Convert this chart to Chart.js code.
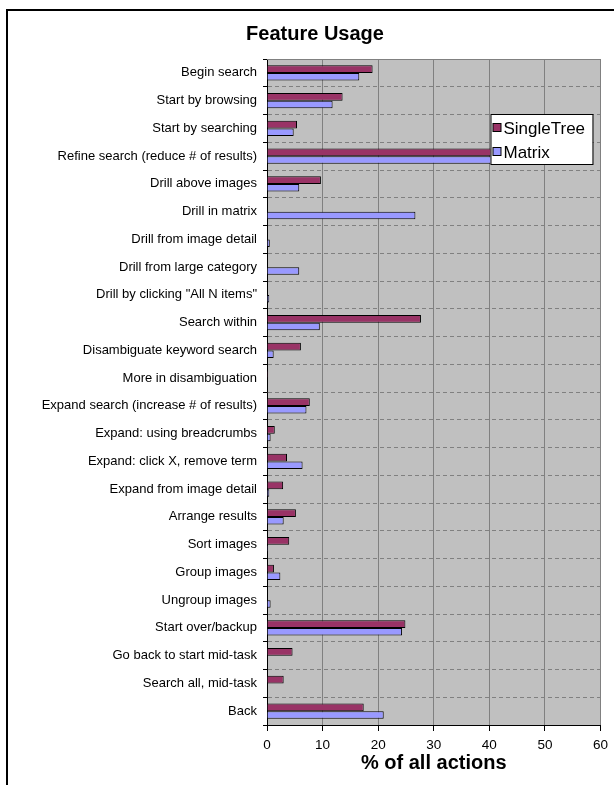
<!DOCTYPE html>
<html>
<head>
<meta charset="utf-8">
<script src="https://cdn.jsdelivr.net/npm/chart.js"></script>
<style>
  html, body { margin: 0; padding: 0; background: #fff; }
  #wrap { width: 614px; height: 785px; }
</style>
</head>
<body>
<div id="wrap"><canvas id="chart" width="614" height="785"></canvas></div>
<script>
// Данные графика
var features = [
  'Begin search', 'Start by browsing', 'Start by searching',
  'Refine search (reduce # of results)', 'Drill above images', 'Drill in matrix',
  'Drill from image detail', 'Drill from large category', 'Drill by clicking "All N items"',
  'Search within', 'Disambiguate keyword search', 'More in disambiguation',
  'Expand search (increase # of results)', 'Expand: using breadcrumbs', 'Expand: click X, remove term',
  'Expand from image detail', 'Arrange results', 'Sort images', 'Group images',
  'Ungroup images', 'Start over/backup', 'Go back to start mid-task',
  'Search all, mid-task', 'Back'
];
var singleTree = [19.0, 13.6, 5.4, 45.0, 9.7, 0, 0, 0, 0, 27.7, 6.1, 0.2,
                  7.7, 1.4, 3.6, 2.9, 5.2, 4.0, 1.25, 0, 24.9, 4.6, 3.0, 17.4];
var matrix = [16.6, 11.8, 4.8, 44.0, 5.8, 26.7, 0.5, 5.8, 0.4, 9.5, 1.2, 0,
              7.1, 0.65, 6.4, 0.4, 3.0, 0.2, 2.4, 0.65, 24.3, 0, 0, 21.0];
var xTicks = [0, 10, 20, 30, 40, 50, 60];

var FONT = "'Liberation Sans', Arial, sans-serif";

// Серый фон области построения, рамка и легенда внутри графика
var excelLook = {
  id: 'excelLook',
  beforeDraw: function(chart) {
    var c = chart.ctx, a = chart.chartArea;
    c.save();
    c.fillStyle = '#fff';
    c.fillRect(0, 0, chart.width, chart.height);
    c.fillStyle = '#c0c0c0';
    c.fillRect(a.left, a.top, a.right - a.left, a.bottom - a.top);
    c.strokeStyle = '#000';
    c.lineWidth = 2;
    c.beginPath();
    c.moveTo(7, chart.height);
    c.lineTo(7, 10);
    c.lineTo(chart.width, 10);
    c.stroke();
    c.restore();
  },
  afterDraw: function(chart) {
    var c = chart.ctx, a = chart.chartArea;
    c.save();
    c.strokeStyle = '#808080';
    c.lineWidth = 1;
    c.beginPath();
    c.moveTo(a.left, a.top + 0.5);
    c.lineTo(a.right, a.top + 0.5);
    c.stroke();

    var bx = a.right - 110, by = 114, bw = 102, bh = 50;
    c.fillStyle = '#fff';
    c.fillRect(bx, by, bw, bh);
    c.strokeStyle = '#000';
    c.strokeRect(bx + 0.5, by + 0.5, bw, bh);
    c.font = '17px ' + FONT;
    c.textBaseline = 'middle';
    chart.data.datasets.forEach(function(ds, i) {
      var cy = by + 14 + i * 24;
      c.fillStyle = ds.backgroundColor;
      c.fillRect(bx + 2.5, cy - 4.5, 8, 8);
      c.strokeStyle = '#000';
      c.strokeRect(bx + 2.5, cy - 4.5, 8, 8);
      c.fillStyle = '#000';
      c.fillText(ds.label, bx + 13, cy + 1);
    });
    c.restore();
  }
};

var ctx = document.getElementById('chart').getContext('2d');
var chart = new Chart(ctx, {
  type: 'bar',
  data: {
    labels: features,
    datasets: [{
      label: 'SingleTree',
      data: singleTree,
      backgroundColor: '#993366',
      borderColor: '#000',
      borderWidth: 1,
      categoryPercentage: 0.55,
      barPercentage: 1
    }, {
      label: 'Matrix',
      data: matrix,
      backgroundColor: '#9999ff',
      borderColor: '#000',
      borderWidth: 1,
      categoryPercentage: 0.55,
      barPercentage: 1
    }]
  },
  options: {
    indexAxis: 'y',
    responsive: false,
    animation: false,
    layout: { padding: { left: 27, right: 11, top: 0, bottom: 10 } },
    plugins: {
      legend: { display: false },
      tooltip: { enabled: false },
      title: {
        display: true,
        text: 'Feature Usage',
        color: '#000',
        font: { family: FONT, size: 20, weight: 'bold' },
        padding: { top: 22, bottom: 13 }
      }
    },
    scales: {
      x: {
        min: 0,
        max: 60,
        afterBuildTicks: function(scale) {
          scale.ticks = xTicks.map(function(v) { return { value: v }; });
        },
        afterFit: function(scale) { scale.height = 50; },
        grid: { color: '#808080', tickColor: '#000', tickLength: 6 },
        border: { color: '#000', width: 1 },
        ticks: { color: '#000', font: { family: FONT, size: 13.5 }, padding: 6 },
        title: {
          display: true,
          text: '% of all actions',
          color: '#000',
          font: { family: FONT, size: 20, weight: 'bold' },
          padding: { top: 0, bottom: 0 }
        }
      },
      y: {
        afterFit: function(scale) { scale.width = 240; },
        grid: {
          color: '#808080',
          borderDash: [3, 3],
          tickColor: '#000',
          tickBorderDash: [],
          tickLength: 4
        },
        border: { color: '#000', width: 1, dash: [4, 3] },
        ticks: { color: '#000', font: { family: FONT, size: 13 }, padding: 6, autoSkip: false }
      }
    }
  },
  plugins: [excelLook]
});
</script>
</body>
</html>
